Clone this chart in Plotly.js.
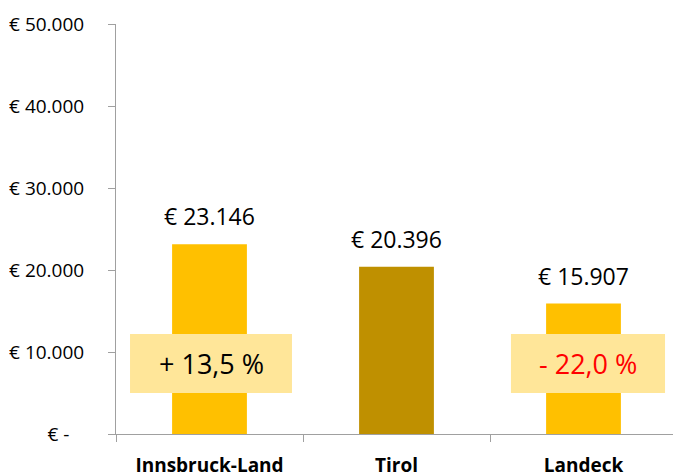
<!DOCTYPE html>
<html>
<head>
<meta charset="utf-8">
<script src="https://cdn.plot.ly/plotly-3.0.1.min.js"></script>
<style>
html, body { margin: 0; padding: 0; overflow: hidden; background: #fff; width: 673px; height: 475px; }
#chart { width: 700px; height: 475px; }
</style>
</head>
<body>
<div id="chart"></div>
<script>
const categories = ['Innsbruck-Land', 'Tirol', 'Landeck'];
const values = [23146, 20396, 15907];
const valueLabels = ['€ 23.146', '€ 20.396', '€ 15.907'];
const changeLabels = ['+ 13,5 %', '', '- 22,0 %'];
const yTickVals = [0, 10000, 20000, 30000, 40000, 50000];
const yTickText = ['€ -\u00a0\u00a0\u00a0', '€ 10.000', '€ 20.000', '€ 30.000', '€ 40.000', '€ 50.000'];

const FONT = 'Open Sans, sans-serif';
const barColors = ['#FFC000', '#BF9000', '#FFC000'];
const boxSpan = [[-0.425, 0.441], null, [-0.388, 0.436]];
const boxY = [5000, 12200];

const shapes = [];
const annotations = [];
categories.forEach((c, i) => {
  annotations.push({
    x: i, y: values[i], xref: 'x', yref: 'y',
    text: valueLabels[i], showarrow: false,
    yanchor: 'middle', yshift: 28,
    font: { family: FONT, size: 23, color: '#000' }
  });
  if (changeLabels[i]) {
    const s = boxSpan[i];
    shapes.push({
      type: 'rect', xref: 'x', yref: 'y', layer: 'above',
      x0: i + s[0], x1: i + s[1], y0: boxY[0], y1: boxY[1],
      fillcolor: '#FFE699', line: { width: 0 }
    });
    annotations.push({
      x: i + (s[0] + s[1]) / 2, y: (boxY[0] + boxY[1]) / 2, xref: 'x', yref: 'y',
      text: changeLabels[i], showarrow: false,
      yanchor: 'middle', xanchor: 'center',
      font: { family: FONT, size: 27, color: changeLabels[i].trim().startsWith('-') ? '#FF0000' : '#000' }
    });
  }
});

const trace = {
  type: 'bar',
  x: categories,
  y: values,
  marker: { color: barColors, line: { width: 0 } },
  hoverinfo: 'skip'
};

const layout = {
  width: 690,
  height: 475,
  margin: { l: 116, r: 13, t: 24, b: 41 },
  paper_bgcolor: '#fff',
  plot_bgcolor: '#fff',
  showlegend: false,
  bargap: 0.6,
  font: { family: FONT, color: '#000' },
  xaxis: {
    type: 'category',
    tickson: 'boundaries',
    ticks: 'outside',
    ticklen: 7,
    tickcolor: '#A0A0A0',
    tickwidth: 1,
    showline: true,
    linecolor: '#A0A0A0',
    linewidth: 1,
    showgrid: false,
    zeroline: false,
    ticklabelstandoff: 14,
    tickfont: { family: FONT, size: 19, color: '#000', weight: 'bold' },
    fixedrange: true
  },
  yaxis: {
    range: [0, 50000],
    tickmode: 'array',
    tickvals: yTickVals,
    ticktext: yTickText,
    ticks: 'outside',
    ticklen: 7,
    tickcolor: '#A0A0A0',
    tickwidth: 1,
    showline: true,
    linecolor: '#A0A0A0',
    linewidth: 1,
    showgrid: false,
    zeroline: false,
    ticklabelstandoff: 20,
    tickfont: { family: FONT, size: 19, color: '#000' },
    fixedrange: true
  },
  shapes: shapes,
  annotations: annotations
};

Plotly.newPlot('chart', [trace], layout, { displayModeBar: false, staticPlot: true });
</script>
</body>
</html>
